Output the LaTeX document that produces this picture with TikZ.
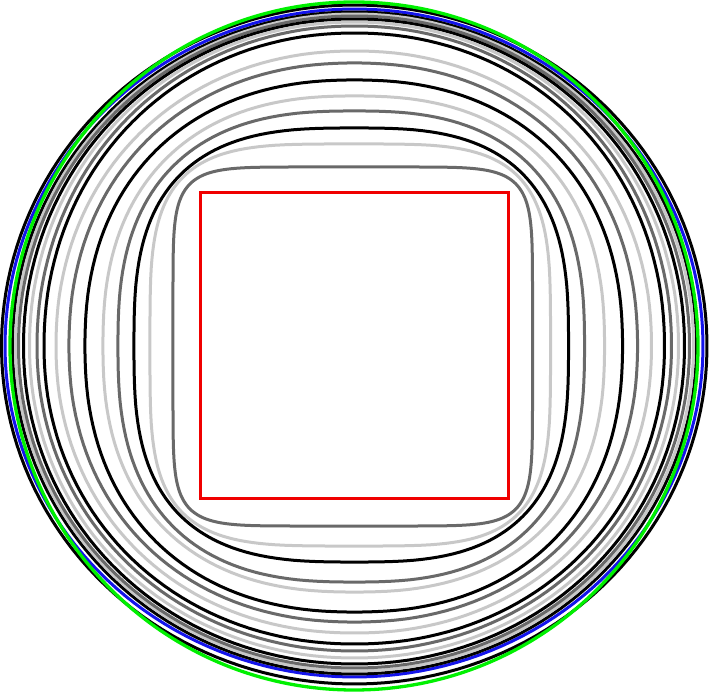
\documentclass[tikz,border=0pt]{standalone}
\definecolor{cg}{RGB}{105,105,105}
\definecolor{cl}{RGB}{200,200,200}
\definecolor{ck}{RGB}{0,0,0}
\definecolor{cblue}{RGB}{20,20,235}
\definecolor{cgreen}{RGB}{0,240,0}
\definecolor{cred}{RGB}{240,0,0}
\newcommand\SupE[6]{\draw[curve,#1] plot[domain=1:359,samples=180]
 ({((cos(\x)>0)*#3+(cos(\x)<0)*#2)*sign(cos(\x))*pow(abs(cos(\x)),2/#6)},
  {((sin(\x)>0)*#4+(sin(\x)<0)*#5)*sign(sin(\x))*pow(abs(sin(\x)),2/#6)}) -- cycle;}
\begin{document}
\begin{tikzpicture}[x=1pt,y=1pt,curve/.style={line width=3pt,line join=round}]
\useasboundingbox (-354.5,-349) rectangle (354.5,346);
\SupE{ck}{353}{352.5}{341}{338}{2}
\SupE{cblue}{349.5}{348.5}{337}{331}{2}
\SupE{ck}{342}{342}{334}{328}{2.01}
\SupE{cl}{339}{339}{332}{325}{2.01}
\SupE{cg}{336}{335}{330}{322}{2.02}
\SupE{ck}{331}{330}{327}{318}{2.03}
\SupE{cl}{325}{324}{324}{312}{2.04}
\SupE{cg}{317.5}{317}{320}{305}{2.05}
\SupE{ck}{310.5}{310}{313}{298}{2.07}
\SupE{cl}{298.5}{297}{295}{287}{2.11}
\SupE{cg}{285.5}{283}{283}{276}{2.17}
\SupE{ck}{269.5}{268}{266}{266}{2.26}
\SupE{cl}{251.5}{250}{250}{246}{2.4}
\SupE{cg}{236.5}{230}{235}{236}{2.6}
\SupE{ck}{220.5}{214}{218}{216}{2.9}
\SupE{cl}{204.5}{196}{202}{200}{3.9}
\SupE{cg}{181.5}{178}{179}{180}{7}
\draw[cgreen,line width=3.3pt] (-0.5,0) circle[radius=344];
\draw[cred,line width=3pt] (-153.5,-153) rectangle (153.5,153);
\end{tikzpicture}
\end{document}
